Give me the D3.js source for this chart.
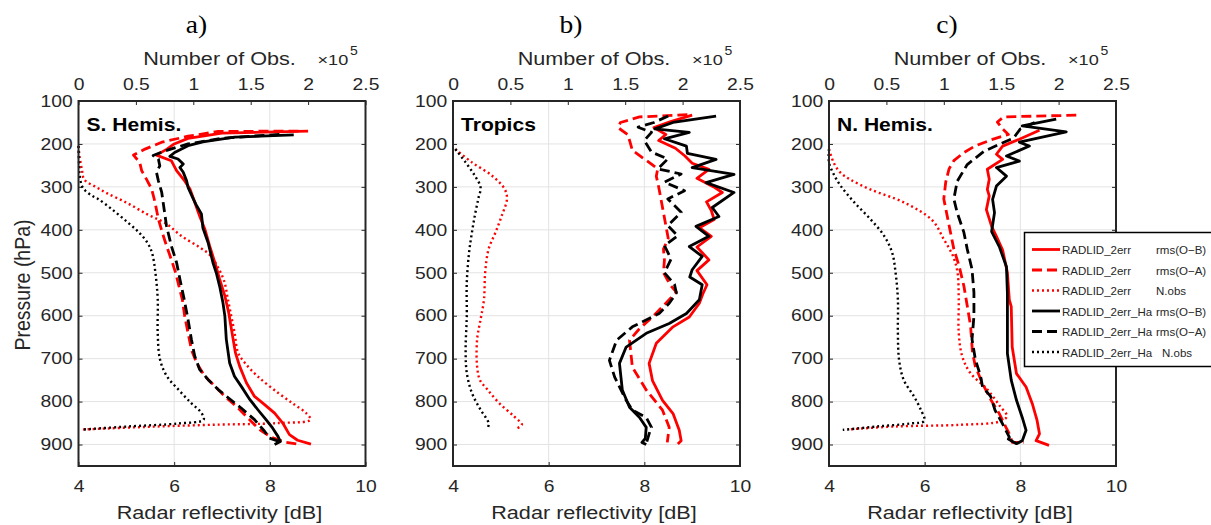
<!DOCTYPE html>
<html>
<head>
<meta charset="utf-8">
<script src="https://cdn.jsdelivr.net/npm/d3@7"></script>
<style>
  body { margin: 0; background: #fff; }
  svg { display: block; font-family: "Liberation Sans", Arial, sans-serif; }
</style>
</head>
<body>
<div id="chart"></div>
<script>
// ---- axes / labels
const pressureTicks = [100, 200, 300, 400, 500, 600, 700, 800, 900]
const dbTicks = [4, 6, 8, 10]
const obsTicks = [0, 0.5, 1, 1.5, 2, 2.5]
const panelNames = ['S. Hemis.', 'Tropics', 'N. Hemis.']
const panelLetters = ['a)', 'b)', 'c)']
const expNames = ['RADLID_2err', 'RADLID_2err', 'RADLID_2err', 'RADLID_2err_Ha', 'RADLID_2err_Ha', 'RADLID_2err_Ha']
const statNames = ['rms(O\u2212B)', 'rms(O\u2212A)', 'N.obs', 'rms(O\u2212B)', 'rms(O\u2212A)', 'N.obs']

// ---- S. Hemis. [pressure hPa, value]  (rms in dB, N.obs in 1e5)
const shRadOmb = [[170,8.8],[175,7.0],[187,6.29],[200,6.0],[212,5.85],[226,5.63],[239,5.94],[262,6.05],[286,6.22],[305,6.33],[336,6.43],[367,6.53],[398,6.64],[437,6.74],[476,6.85],[515,6.95],[554,7.06],[593,7.14],[640,7.21],[686,7.28],[718,7.37],[756,7.51],[788,7.68],[807,7.89],[827,8.1],[850,8.27],[877,8.41],[890,8.58],[899,8.86]]
const shRadOma = [[170,8.6],[171,6.92],[182,6.29],[196,5.74],[212,5.39],[226,5.15],[243,5.28],[262,5.32],[282,5.42],[305,5.53],[336,5.6],[375,5.67],[406,5.75],[437,5.84],[469,5.94],[500,6.03],[531,6.1],[562,6.17],[601,6.22],[640,6.29],[679,6.36],[710,6.47],[741,6.64],[764,6.85],[788,7.06],[811,7.3],[838,7.54],[865,7.78],[883,8.03],[895,8.34],[899,8.58]]
const shRadNobs = [[205,0],[230,0.01],[260,0.03],[283,0.05],[300,0.15],[315,0.25],[337,0.42],[364,0.6],[385,0.76],[415,0.9],[440,1.05],[460,1.15],[490,1.22],[520,1.27],[560,1.3],[600,1.33],[640,1.36],[686,1.39],[710,1.45],[741,1.56],[780,1.74],[807,1.88],[826,1.98],[842,2.02],[850,1.74],[854,1.16],[859,0.58],[865,0.04]]
const shHaOmb = [[179,8.5],[184,7.26],[195,6.6],[204,6.29],[220,6.01],[229,5.91],[235,6.08],[247,6.19],[255,6.12],[266,6.19],[286,6.26],[301,6.29],[328,6.4],[344,6.47],[363,6.57],[395,6.6],[430,6.71],[476,6.81],[500,6.88],[531,6.95],[570,7.02],[601,7.06],[655,7.09],[710,7.16],[741,7.26],[764,7.4],[795,7.58],[819,7.75],[842,7.92],[862,8.06],[881,8.17],[893,8.22],[900,8.1]]
const shHaOma = [[178,8.2],[182,7.6],[187,6.99],[200,6.29],[216,5.81],[227,5.56],[235,5.67],[251,5.7],[266,5.63],[286,5.67],[313,5.74],[352,5.79],[391,5.84],[437,5.94],[476,6.05],[515,6.12],[562,6.21],[609,6.29],[655,6.36],[694,6.43],[725,6.53],[749,6.71],[772,6.92],[791,7.13],[815,7.4],[842,7.68],[869,7.89],[885,7.99],[893,8.2],[900,8.13]]
const shHaNobs = [[205,0],[250,0.005],[274,0.01],[298,0.03],[309,0.06],[321,0.12],[328,0.17],[352,0.29],[383,0.43],[407,0.53],[430,0.6],[453,0.64],[500,0.67],[562,0.69],[640,0.69],[702,0.71],[741,0.77],[772,0.87],[803,0.98],[826,1.07],[842,1.09],[851,0.87],[858,0.43],[865,0.04]]

// ---- Tropics
const trRadOmb = [[133,9.0],[148,8.55],[162,8.2],[178,8.45],[192,8.3],[210,8.65],[228,8.85],[245,9.0],[259,9.35],[280,9.1],[300,9.45],[313,9.63],[335,9.3],[355,9.4],[376,9.46],[395,9.15],[415,9.4],[440,9.1],[470,9.35],[495,9.1],[528,9.31],[550,9.22],[571,9.15],[603,8.94],[626,8.6],[664,8.25],[711,8.1],[751,8.17],[797,8.38],[828,8.6],[867,8.73],[891,8.77],[899,8.7]]
const trRadOma = [[132,8.9],[137,7.9],[150,7.5],[162,7.45],[178,7.65],[195,7.7],[215,7.75],[235,8.0],[258,8.28],[275,8.25],[300,8.3],[330,8.35],[360,8.4],[390,8.45],[420,8.5],[445,8.4],[470,8.42],[500,8.4],[530,8.55],[545,8.67],[571,8.45],[603,8.17],[630,7.9],[657,7.69],[720,7.75],[773,8.04],[820,8.38],[860,8.52],[895,8.48]]
const trRadNobs = [[212,0.02],[243,0.165],[274,0.34],[305,0.45],[328,0.47],[367,0.425],[406,0.37],[445,0.31],[500,0.28],[562,0.27],[609,0.24],[655,0.21],[718,0.21],[750,0.235],[772,0.3],[803,0.4],[834,0.53],[854,0.6],[863,0.55]]
const trHaOmb = [[135,9.5],[150,8.6],[165,8.22],[173,8.94],[188,8.42],[205,8.88],[222,8.9],[236,9.5],[255,9.0],[271,9.875],[290,9.29],[313,9.875],[348,9.42],[369,9.56],[392,9.08],[415,9.35],[439,8.94],[462,9.21],[493,9.0],[510,8.95],[528,9.21],[563,9.15],[595,8.88],[618,8.52],[641,8.04],[673,7.62],[711,7.48],[773,7.54],[813,7.69],[837,7.9],[860,8.04],[886,8.02],[895,7.95],[900,8.04]]
const trHaOma = [[135,8.5],[150,8.2],[161,7.87],[173,8.15],[192,8.0],[219,8.15],[235,8.49],[258,8.28],[270,8.77],[289,8.42],[309,8.84],[328,8.49],[359,8.77],[390,8.49],[414,8.7],[437,8.42],[468,8.56],[500,8.42],[527,8.63],[547,8.67],[571,8.52],[595,8.31],[626,7.75],[657,7.42],[704,7.27],[743,7.38],[797,7.62],[820,7.75],[837,8.04],[860,8.15],[875,8.1],[898,8.04]]
const trHaNobs = [[212,0.02],[243,0.11],[274,0.19],[301,0.24],[328,0.22],[367,0.19],[406,0.165],[453,0.14],[523,0.12],[601,0.12],[679,0.11],[733,0.12],[780,0.165],[819,0.24],[850,0.31],[865,0.3]]

// ---- N. Hemis.
const nhRadOmb = [[168,8.4],[189,7.98],[205,7.63],[224,7.5],[236,7.63],[259,7.31],[282,7.35],[306,7.31],[321,7.35],[353,7.29],[392,7.4],[415,7.5],[447,7.63],[500,7.73],[563,7.77],[579,7.81],[673,7.83],[735,7.92],[766,8.12],[805,8.25],[844,8.35],[875,8.4],[891,8.33],[902,8.6]]
const nhRadOma = [[133,9.17],[137,7.65],[149,7.52],[165,7.63],[178,7.75],[190,7.4],[205,7.05],[220,6.82],[239,6.61],[258,6.51],[289,6.44],[328,6.4],[367,6.47],[406,6.54],[445,6.61],[484,6.72],[531,6.82],[577,6.89],[624,6.96],[686,7.0],[718,7.06],[756,7.2],[795,7.38],[828,7.56],[860,7.7],[875,7.77],[895,7.83],[895,8.07]]
const nhRadNobs = [[212,0],[243,0.04],[267,0.1],[282,0.18],[306,0.36],[337,0.66],[378,0.9],[422,1.0],[461,1.08],[500,1.12],[562,1.13],[640,1.13],[694,1.16],[733,1.23],[772,1.38],[811,1.49],[834,1.55],[846,1.49],[854,1.15],[858,0.57],[865,0.16]]
const nhHaOmb = [[142,8.75],[158,8.04],[172,8.96],[196,7.98],[205,8.19],[228,7.71],[240,7.98],[255,7.5],[275,7.71],[298,7.5],[329,7.42],[360,7.46],[404,7.4],[439,7.56],[486,7.71],[548,7.73],[626,7.73],[688,7.73],[750,7.81],[797,7.92],[837,8.04],[867,8.12],[891,8.04],[898,7.92],[886,7.73]]
const nhHaOma = [[150,8.3],[165,8.0],[186,7.86],[217,7.24],[248,6.89],[287,6.68],[328,6.61],[360,6.68],[406,6.82],[445,6.89],[492,6.99],[546,7.03],[601,7.03],[655,6.99],[702,7.06],[741,7.17],[766,7.21],[788,7.38],[820,7.47],[850,7.62],[883,7.77],[898,7.71]]
const nhHaNobs = [[212,0],[243,0.0],[270,0.04],[297,0.1],[336,0.22],[375,0.36],[414,0.48],[453,0.55],[500,0.58],[562,0.6],[640,0.6],[702,0.61],[749,0.65],[788,0.74],[819,0.8],[845,0.83],[851,0.71],[858,0.42],[866,0.12]]

// ---- layout
const width = 1211, height = 525
const plotTop = 101, plotBottom = 466, plotW = 287
const SX = 1.17   // the figure text is a bit wide
const ink = '#262626'

const seriesStyle = [
    {color: '#ff0000', dash: null, obs: false},
    {color: '#ff0000', dash: '10,5', obs: false},
    {color: '#ff0000', dash: '2,3', obs: true},
    {color: '#000000', dash: null, obs: false},
    {color: '#000000', dash: '10,5', obs: false},
    {color: '#000000', dash: '2,3', obs: true}
]

const panels = [
    {left: 78.5, series: [shRadOmb, shRadOma, shRadNobs, shHaOmb, shHaOma, shHaNobs]},
    {left: 453, series: [trRadOmb, trRadOma, trRadNobs, trHaOmb, trHaOma, trHaNobs]},
    {left: 829, series: [nhRadOmb, nhRadOma, nhRadNobs, nhHaOmb, nhHaOma, nhHaNobs]}
]

const svg = d3.select('#chart').append('svg')
    .attr('width', width)
    .attr('height', height)

function wideText(g, x, y, str, size, anchor) {
    return g.append('text')
        .attr('transform', `translate(${x},${y}) scale(${SX},1)`)
        .attr('text-anchor', anchor || 'middle')
        .style('font-size', size + 'px')
        .attr('fill', ink)
        .text(str)
}

const yScale = d3.scaleLinear().domain([100, 950]).range([plotTop, plotBottom])

panels.forEach((p, i) => {
    const g = svg.append('g')
    const right = p.left + plotW
    const xDb = d3.scaleLinear().domain([4, 10]).range([p.left, right])
    const xObs = d3.scaleLinear().domain([0, 2.5]).range([p.left, right])

    // grid
    g.append('g').selectAll('line.h')
        .data(pressureTicks.slice(1))
        .enter().append('line')
        .attr('x1', p.left).attr('x2', right)
        .attr('y1', d => yScale(d)).attr('y2', d => yScale(d))
        .attr('stroke', '#e3e3e3').attr('stroke-width', 1)
    g.append('g').selectAll('line.v')
        .data(dbTicks.slice(1, -1))
        .enter().append('line')
        .attr('x1', d => xDb(d)).attr('x2', d => xDb(d))
        .attr('y1', plotTop).attr('y2', plotBottom)
        .attr('stroke', '#e3e3e3').attr('stroke-width', 1)

    // axes
    const styleAxis = (ax) => {
        ax.select('.domain').remove()
        ax.selectAll('line').attr('stroke', ink).attr('stroke-width', 1)
        ax.selectAll('text')
            .attr('fill', ink)
            .style('font-size', '16.5px')
            .style('font-family', '"Liberation Sans", Arial, sans-serif')
            .attr('transform', `scale(${SX},1)`)
    }
    g.append('g')
        .attr('transform', `translate(${p.left},0)`)
        .call(d3.axisLeft(yScale).tickValues(pressureTicks).tickSize(-4).tickPadding(5).tickFormat(d3.format('d')))
        .call(styleAxis)
    g.append('g')
        .attr('transform', `translate(${right},0)`)
        .call(d3.axisRight(yScale).tickValues(pressureTicks).tickSize(-4).tickFormat(''))
        .call(styleAxis)
    g.append('g')
        .attr('transform', `translate(0,${plotTop})`)
        .call(d3.axisTop(xObs).tickValues(obsTicks).tickSize(-4).tickPadding(11).tickFormat(d => String(d)))
        .call(styleAxis)
    g.append('g')
        .attr('transform', `translate(0,${plotBottom})`)
        .call(d3.axisBottom(xDb).tickValues(dbTicks).tickSize(-4).tickPadding(14).tickFormat(d3.format('d')))
        .call(styleAxis)

    // profiles
    p.series.forEach((data, k) => {
        const st = seriesStyle[k]
        const xs = st.obs ? xObs : xDb
        const line = d3.line()
            .x(d => xs(d[1]))
            .y(d => yScale(d[0]))
            .curve(st.obs ? d3.curveCatmullRom.alpha(0.5) : d3.curveLinear)
        g.append('path')
            .datum(data)
            .attr('d', line)
            .attr('fill', 'none')
            .attr('stroke', st.color)
            .attr('stroke-width', st.obs ? 2.4 : 2.8)
            .attr('stroke-dasharray', st.dash)
            .attr('stroke-linejoin', 'round')
    })

    // box
    g.append('rect')
        .attr('x', p.left).attr('y', plotTop)
        .attr('width', plotW).attr('height', plotBottom - plotTop)
        .attr('fill', 'none').attr('stroke', ink).attr('stroke-width', 2)

    // texts
    g.append('text')
        .attr('transform', `translate(${p.left + 8},131) scale(${SX},1)`)
        .style('font-size', '18px').style('font-weight', 'bold')
        .attr('fill', '#000')
        .text(panelNames[i])

    g.append('text')
        .attr('transform', `translate(${p.left + 118},33) scale(1.1,1)`)
        .attr('text-anchor', 'middle')
        .style('font-family', '"Liberation Serif", "Times New Roman", serif')
        .style('font-size', '25px')
        .attr('fill', '#000')
        .text(panelLetters[i])

    wideText(g, p.left + 141, 65, 'Number of Obs.', 18.5)
    wideText(g, p.left + 239, 65, '\u00d710', 15.5, 'start')
    wideText(g, p.left + 271.5, 55, '5', 12, 'start')
    wideText(g, p.left + 141, 519, 'Radar reflectivity [dB]', 18.5)
})

// y label
svg.append('text')
    .attr('transform', `translate(30,285) rotate(-90) scale(1,${SX})`)
    .attr('text-anchor', 'middle')
    .style('font-size', '19.5px')
    .attr('fill', ink)
    .text('Pressure (hPa)')

// legend
const leg = svg.append('g')
leg.append('rect')
    .attr('x', 1024.5).attr('y', 232.5)
    .attr('width', 200).attr('height', 134)
    .attr('fill', '#fff').attr('stroke', '#000').attr('stroke-width', 1.5)

const legRows = leg.selectAll('g.row')
    .data(seriesStyle)
    .enter().append('g')
    .attr('transform', (d, k) => `translate(0,${249.5 + k * 20.5})`)
legRows.append('line')
    .attr('x1', 1032).attr('x2', 1060)
    .attr('stroke', d => d.color)
    .attr('stroke-width', d => d.obs ? 2.4 : 2.8)
    .attr('stroke-dasharray', d => d.dash)
legRows.append('text')
    .attr('x', 1062).attr('y', 4.5)
    .style('font-size', '11.5px')
    .attr('fill', ink)
    .text((d, k) => expNames[k])
legRows.append('text')
    .attr('x', (d, k) => k === 5 ? 1162 : 1156)
    .attr('y', 4.5)
    .style('font-size', '11.5px')
    .attr('fill', ink)
    .text((d, k) => statNames[k])
</script>
</body>
</html>
